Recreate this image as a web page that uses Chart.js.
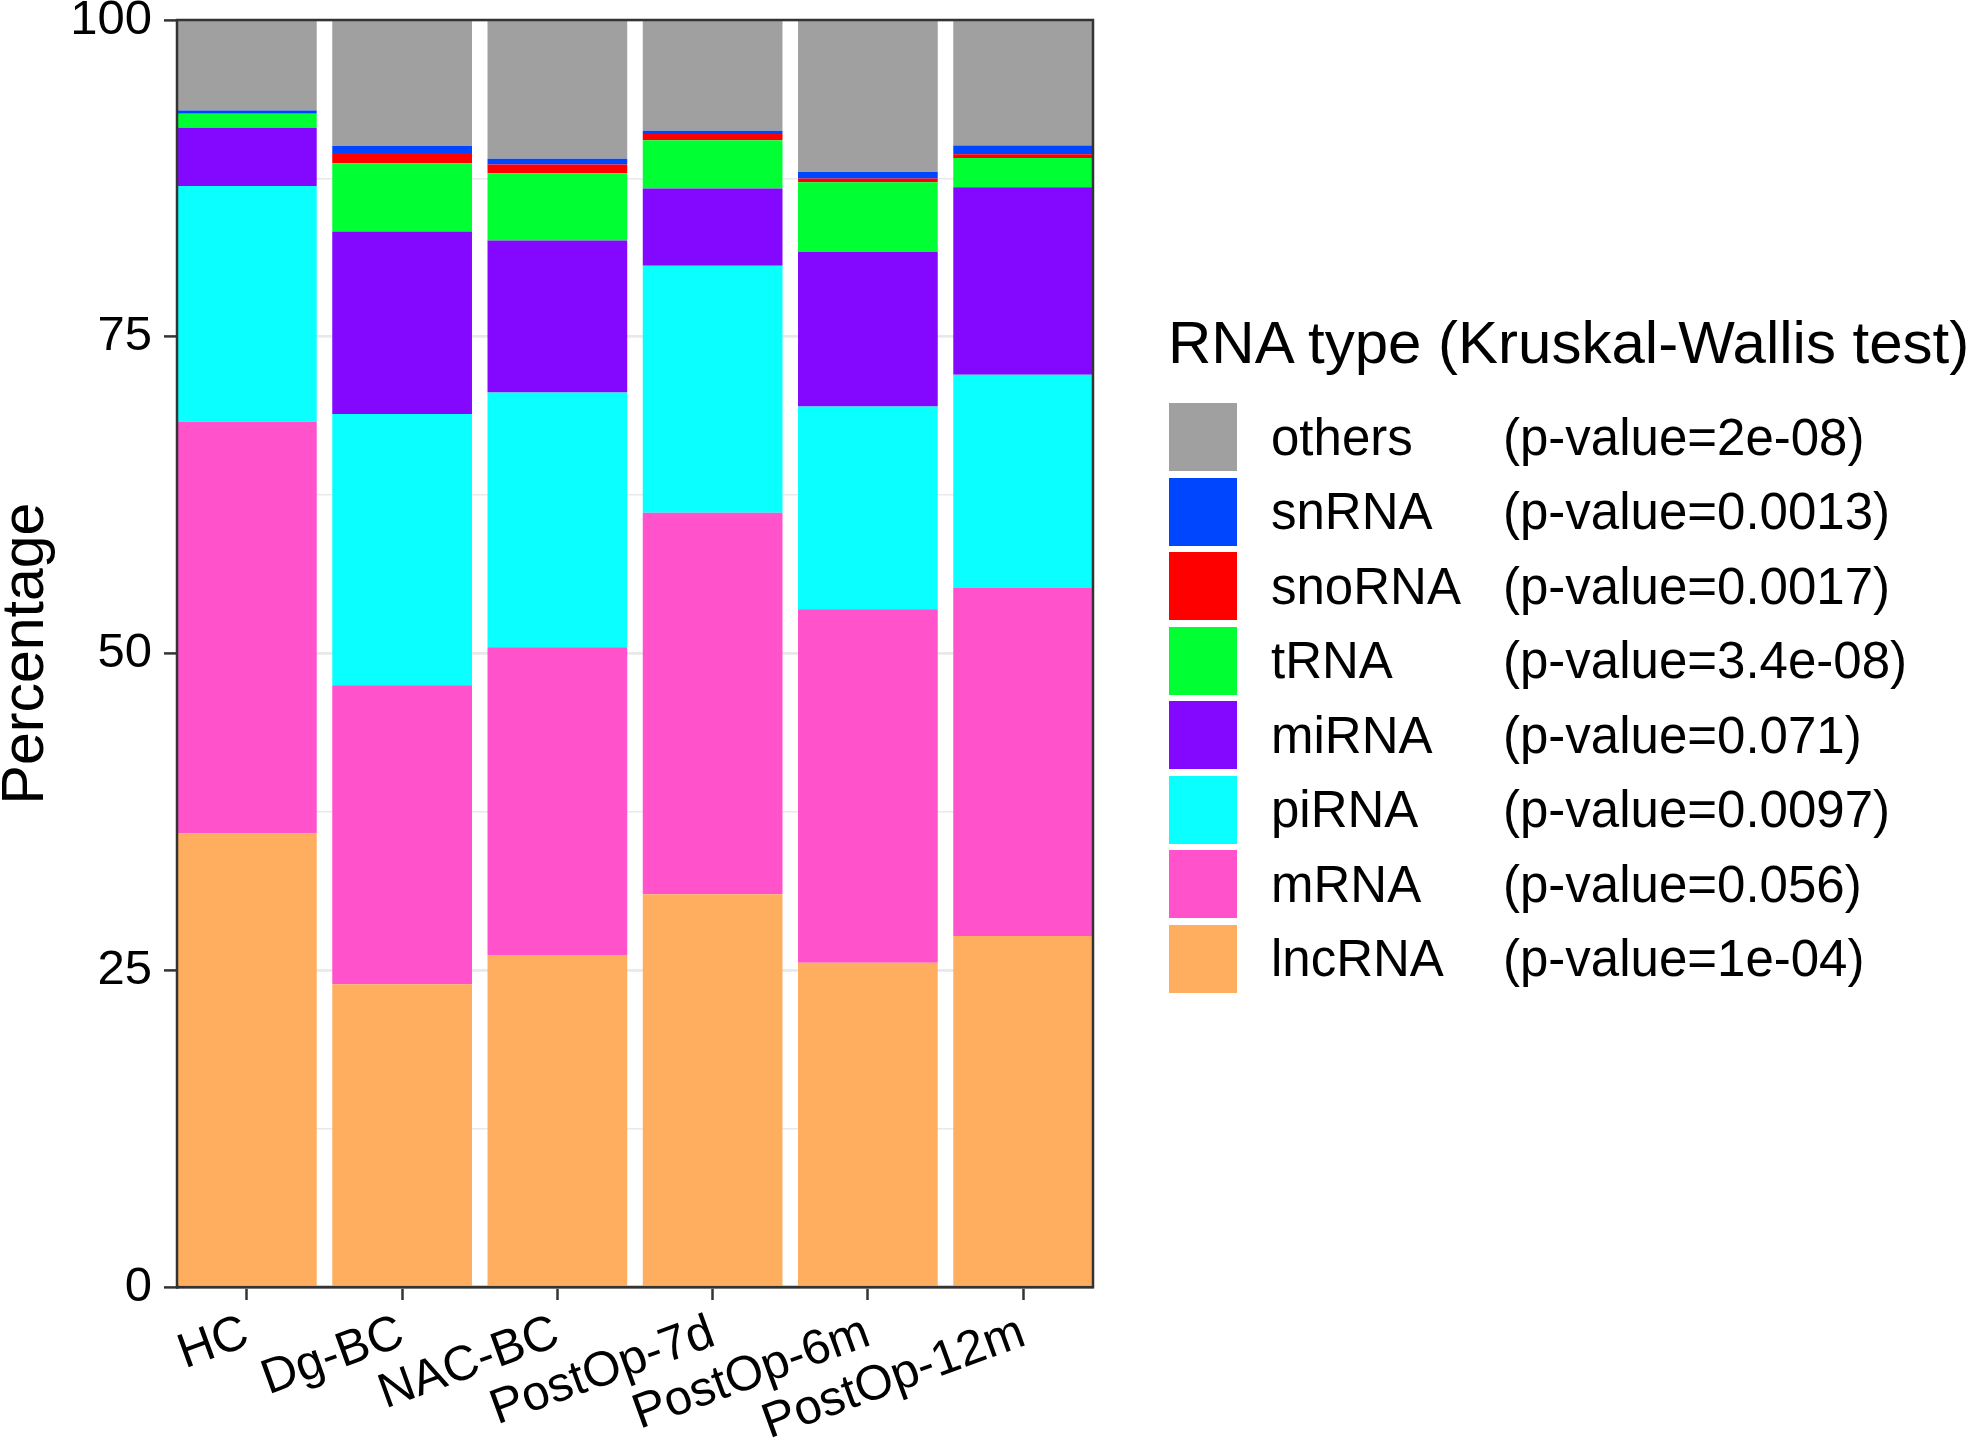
<!DOCTYPE html>
<html>
<head>
<meta charset="utf-8">
<script src="https://cdn.jsdelivr.net/npm/chart.js@4.4.1/dist/chart.umd.min.js"></script>
<style>
  html, body { margin: 0; padding: 0; background: #fff; overflow: hidden; }
  #wrap { position: relative; width: 1969px; height: 1443px; font-family: "Liberation Sans", Arial, sans-serif; }
  #chart { position: absolute; left: 0; top: 0; }
  #legend-title { position: absolute; left: 1168px; top: 313px; font-size: 60px; line-height: 1; white-space: nowrap; color: #000; }
  .row { position: absolute; left: 1169px; height: 68px; display: flex; align-items: center; font-size: 51px; color: #000; white-space: nowrap; }
  .key { width: 68px; height: 68px; }
  .name { position: absolute; left: 102px; }
  .pval { position: absolute; left: 334px; }
</style>
</head>
<body>
<div id="wrap">
  <canvas id="chart" width="1969" height="1443"></canvas>
  <div id="legend-title">RNA type (Kruskal-Wallis test)</div>
  <div id="legend"></div>
</div>
<script>
// categories on the x axis
const categories = ["HC", "Dg-BC", "NAC-BC", "PostOp-7d", "PostOp-6m", "PostOp-12m"];

// percentages per RNA type, stacked bottom to top
const lncRNA = [35.8, 23.9, 26.2, 31.0, 25.6, 27.7];
const mRNA   = [32.5, 23.6, 24.3, 30.1, 27.9, 27.5];
const piRNA  = [18.6, 21.4, 20.1, 19.5, 16.0, 16.8];
const miRNA  = [4.6, 14.4, 12.0, 6.1, 12.2, 14.8];
const tRNA   = [1.1, 5.4, 5.3, 3.8, 5.5, 2.3];
const snoRNA = [0.05, 0.8, 0.7, 0.5, 0.3, 0.3];
const snRNA  = [0.2, 0.55, 0.45, 0.25, 0.5, 0.7];
const others = [7.15, 9.95, 10.95, 8.75, 12.0, 9.9];

const yTicks = [0, 25, 50, 75, 100];

// legend text (top to bottom)
const typeNames = ["others", "snRNA", "snoRNA", "tRNA", "miRNA", "piRNA", "mRNA", "lncRNA"];
const pValues = ["2e-08", "0.0013", "0.0017", "3.4e-08", "0.071", "0.0097", "0.056", "1e-04"];

const colors = {
  others: "#a0a0a0",
  snRNA: "#0046ff",
  snoRNA: "#ff0000",
  tRNA: "#00ff33",
  miRNA: "#8408ff",
  piRNA: "#0affff",
  mRNA: "#ff52cb",
  lncRNA: "#ffae60",
};

const seriesData = { lncRNA, mRNA, piRNA, miRNA, tRNA, snoRNA, snRNA, others };
const stackOrder = ["lncRNA", "mRNA", "piRNA", "miRNA", "tRNA", "snoRNA", "snRNA", "others"];

const datasets = stackOrder.map((name) => ({
  label: name,
  data: seriesData[name].map((v, i) => ({ x: i, y: v })),
  backgroundColor: colors[name],
  borderWidth: 0,
  barPercentage: 0.9,
  categoryPercentage: 1.0,
}));

// panel border on top of the bars (theme_bw look)
const panelBorder = {
  id: "panelBorder",
  afterDatasetsDraw(chart) {
    const { ctx, chartArea: a } = chart;
    ctx.save();
    ctx.strokeStyle = "#333333";
    ctx.lineWidth = 2.5;
    ctx.strokeRect(a.left, a.top, a.right - a.left, a.bottom - a.top);
    ctx.restore();
  },
};

const font = "'Liberation Sans', Arial, sans-serif";

new Chart(document.getElementById("chart"), {
  type: "bar",
  data: { datasets },
  plugins: [panelBorder],
  options: {
    responsive: false,
    animation: false,
    devicePixelRatio: 1,
    layout: { padding: { left: 0, right: 876, top: 20, bottom: 0 } },
    plugins: { legend: { display: false }, tooltip: { enabled: false } },
    scales: {
      x: {
        type: "linear",
        stacked: true,
        offset: false,
        min: -0.45,
        max: 5.45,
        // one tick per category
        afterBuildTicks: (s) => {
          s.ticks = categories.map((c, i) => ({ value: i }));
        },
        afterFit: (s) => {
          s.height = 156;
          s.paddingLeft = 0;
          s.paddingRight = 0;
        },
        ticks: {
          stepSize: 1,
          autoSkip: false,
          minRotation: 20,
          maxRotation: 20,
          padding: 4,
          color: "#000",
          font: { family: font, size: 49 },
          callback: (v) => categories[v] ?? "",
        },
        grid: {
          drawOnChartArea: false,
          offset: false,
          tickLength: 13,
          tickColor: "#333333",
          tickWidth: 2.5,
        },
        border: { display: true, color: "#333333", width: 2.5 },
      },
      y: {
        stacked: true,
        min: 0,
        max: 100,
        afterFit: (s) => {
          s.width = 177;
          s.paddingTop = 0;
          s.paddingBottom = 0;
        },
        ticks: {
          stepSize: 12.5,
          padding: 12,
          color: "#000",
          font: { family: font, size: 49 },
          callback: (v) => (yTicks.includes(v) ? String(v) : ""),
        },
        grid: {
          color: "#e9e9e9",
          lineWidth: (c) => (c.tick && yTicks.includes(c.tick.value) ? 2.8 : 1.4),
          tickLength: 13,
          tickColor: (c) => (c.tick && yTicks.includes(c.tick.value) ? "#333333" : "rgba(0,0,0,0)"),
          tickWidth: 2.5,
        },
        border: { display: true, color: "#333333", width: 2.5 },
        title: {
          display: true,
          text: "Percentage",
          color: "#000",
          padding: 0,
          font: { family: font, size: 59, lineHeight: 0.92 },
        },
      },
    },
  },
});

// HTML legend
const legend = document.getElementById("legend");
typeNames.forEach((name, i) => {
  const row = document.createElement("div");
  row.className = "row";
  row.style.top = (403 + i * 74.5) + "px";
  row.innerHTML = `
    <div class="key" style="background:${colors[name]}"></div>
    <span class="name">${name}</span>
    <span class="pval">(p-value=${pValues[i]})</span>
  `;
  legend.appendChild(row);
});
</script>
</body>
</html>
